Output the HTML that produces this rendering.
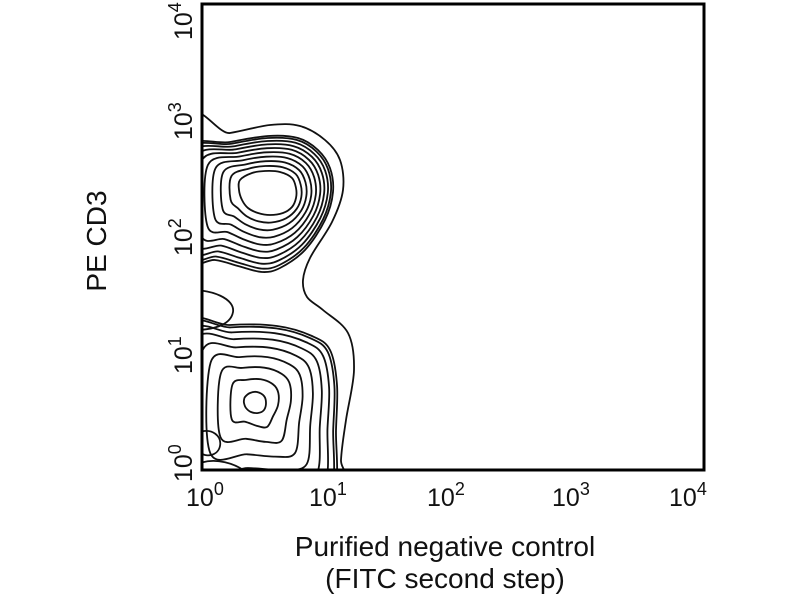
<!DOCTYPE html>
<html><head><meta charset="utf-8">
<style>
html,body{margin:0;padding:0;background:#fff;}
svg{display:block;font-family:"Liberation Sans",Arial,sans-serif;}
</style></head>
<body>
<svg id="s" width="800" height="600" viewBox="0 0 800 600" xmlns="http://www.w3.org/2000/svg">
<defs><clipPath id="c"><rect x="202" y="4" width="502" height="466"/></clipPath></defs>
<g id="cont" clip-path="url(#c)" fill="none" stroke="#111" stroke-width="1.8"></g>
<rect x="202" y="4" width="502" height="466" fill="none" stroke="#000" stroke-width="3"/>
<g font-size="25" fill="#111">
<text x="186" y="506">10<tspan dy="-11" font-size="18">0</tspan></text>
<text x="309" y="506">10<tspan dy="-11" font-size="18">1</tspan></text>
<text x="427" y="506">10<tspan dy="-11" font-size="18">2</tspan></text>
<text x="552" y="506">10<tspan dy="-11" font-size="18">3</tspan></text>
<text x="669" y="506">10<tspan dy="-11" font-size="18">4</tspan></text>
<g transform="translate(192,0) rotate(-90)">
<text x="-482" y="0">10<tspan dy="-11" font-size="18">0</tspan></text>
<text x="-374" y="0">10<tspan dy="-11" font-size="18">1</tspan></text>
<text x="-256" y="0">10<tspan dy="-11" font-size="18">2</tspan></text>
<text x="-140" y="0">10<tspan dy="-11" font-size="18">3</tspan></text>
<text x="-40" y="0">10<tspan dy="-11" font-size="18">4</tspan></text>
</g>
<text x="0" y="0" font-size="28" text-anchor="middle" transform="translate(106,241) rotate(-90)">PE CD3</text>
<text x="445" y="556" font-size="28" text-anchor="middle">Purified negative control</text>
<text x="445" y="588" font-size="28" text-anchor="middle">(FITC second step)</text>
</g>
</svg>
<script>
var g=document.getElementById('cont');
function add(d){var p=document.createElementNS('http://www.w3.org/2000/svg','path');p.setAttribute('d',d);g.appendChild(p);}
function smooth(pts){var n=pts.length,d='';for(var i=0;i<n;i++){var p0=pts[(i-1+n)%n],p1=pts[i],p2=pts[(i+1)%n],p3=pts[(i+2)%n];
 if(i==0)d+='M'+p1[0].toFixed(1)+','+p1[1].toFixed(1);
 var c1=[p1[0]+(p2[0]-p0[0])/6,p1[1]+(p2[1]-p0[1])/6],c2=[p2[0]-(p3[0]-p1[0])/6,p2[1]-(p3[1]-p1[1])/6];
 d+=' C'+c1.map(function(v){return v.toFixed(1)}).join(',')+' '+c2.map(function(v){return v.toFixed(1)}).join(',')+' '+p2[0].toFixed(1)+','+p2[1].toFixed(1);}
 return d+'Z';}
function lerp(a,b,t){return a.map(function(p,i){return [p[0]+(b[i][0]-p[0])*t,p[1]+(b[i][1]-p[1])*t];});}
add(smooth([[180,140],[230,133],[270,125],[300,126],[325,140],[340,160],[343,190],[332,222],[310,258],[303,280],[307,297],[323,310],[348,333],[354,370],[346,420],[341,460],[342,500],[180,500]]));
var uo=[[180,152],[230,142],[268,136],[298,138],[318,150],[330,168],[333,192],[325,220],[305,250],[280,268],[262,272],[238,266],[215,260],[180,258]];
var ui=[[240,180],[252,173],[265,171],[280,172],[292,178],[296,188],[296,198],[292,207],[283,213],[270,215],[258,213],[248,208],[242,200],[239,190]];
var N=10;for(var k=0;k<N;k++){var t=k/(N-1);t=Math.pow(t,1.3);add(smooth(lerp(uo,ui,t)));}
add('M180,290 C215,288 235,300 233,312 C231,324 215,332 180,330');
var lo=[[180,332],[230,325],[277,326],[312,336],[330,350],[337,385],[336,430],[334,490],[300,500],[250,500],[180,500]];
var li=[[245,397],[250,393],[257,392],[264,396],[266,403],[264,410],[258,413],[251,412],[246,408],[244,403],[244,400]];
N=9;for(k=0;k<N;k++){t=k/(N-1);t=Math.pow(t,1.6);add(smooth(lerp(lo,li,t)));}
add('M200,432 C212,428 222,436 220,446 C218,456 205,458 200,452');
add('M200,463 C215,458 235,462 250,475');
</script>
</body></html>
